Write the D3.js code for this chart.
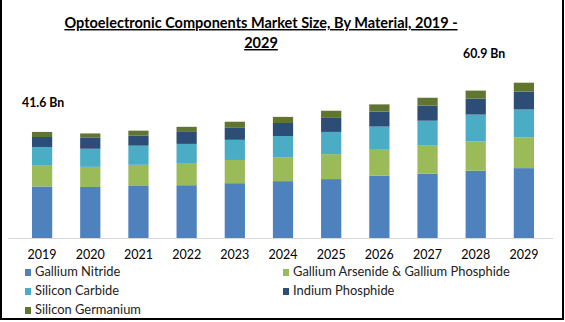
<!DOCTYPE html>
<html><head><meta charset="utf-8">
<script src="https://cdn.jsdelivr.net/npm/d3@7/dist/d3.min.js"></script>
<style>body{margin:0;background:#fff}svg{display:block}text{font-family:Lato,"Open Sans",sans-serif}</style>
</head><body><svg id="c" width="565" height="322"></svg>
<script>
const years = ["2019","2020","2021","2022","2023","2024","2025","2026","2027","2028","2029"];
const seriesNames = ["Gallium Nitride","Gallium Arsenide & Gallium Phosphide","Silicon Carbide","Indium Phosphide","Silicon Germanium"];
const galliumNitride   = [20.2,20.0,20.4,20.7,21.5,22.3,23.1,24.4,25.2,26.4,27.4];
const galliumArsenide  = [ 8.4, 7.9, 8.3, 8.7, 9.1, 9.4, 9.8,10.2,11.0,11.4,12.1];
const siliconCarbide   = [ 7.1, 7.1, 7.5, 7.5, 7.9, 8.3, 8.7, 9.1, 9.8,10.6,10.9];
const indiumPhosphide  = [ 3.9, 4.3, 3.9, 4.7, 4.7, 5.1, 5.5, 5.9, 5.9, 6.3, 7.0];
const siliconGermanium = [ 2.0, 1.7, 2.0, 2.0, 2.4, 2.4, 2.8, 2.8, 3.1, 3.1, 3.5];
const colors = ["#4F81BD","#9BBB59","#4BACC6","#2C4D75","#5F7530"];
const annotations = [{year:"2019",label:"41.6 Bn"},{year:"2029",label:"60.9 Bn"}];

const svg = d3.select("#c");
const seriesArr = [galliumNitride,galliumArsenide,siliconCarbide,indiumPhosphide,siliconGermanium];
const table = years.map((y,i)=>{const o={year:y};seriesNames.forEach((s,k)=>o[s]=seriesArr[k][i]);return o;});
const stack = d3.stack().keys(seriesNames)(table);

const x = d3.scaleBand().domain(years).range([18,548]).paddingInner(0.58).paddingOuter(0.29);
const y = d3.scaleLinear().domain([0,62]).range([238,238-62*2.55]);

// border
svg.append("rect").attr("x",1).attr("y",-2).attr("width",562).attr("height",321).attr("fill","none").attr("stroke","#000").attr("stroke-width",2);

// title
const title = svg.append("text").attr("text-anchor","middle").attr("font-weight","bold").attr("font-size",14.5).attr("fill","#000").style("text-decoration","underline");
title.append("tspan").attr("x",261).attr("y",28).text("Optoelectronic Components Market Size, By Material, 2019 -");
title.append("tspan").attr("x",261).attr("y",48).text("2029");

// bars
svg.append("g").selectAll("g").data(stack).join("g").attr("fill",(d,i)=>colors[i])
  .selectAll("rect").data(d=>d).join("rect")
  .attr("x",d=>x(d.data.year)).attr("width",x.bandwidth())
  .attr("y",d=>y(d[1])).attr("height",d=>y(d[0])-y(d[1]));

// axis
const ax = svg.append("g").attr("transform","translate(0,238)").call(d3.axisBottom(x).tickSize(0).tickPadding(12));
ax.select(".domain").attr("d","M8,0.5H553").attr("stroke","#d9d9d9");
ax.selectAll("text").attr("font-size",12.5).attr("fill","#000").style("font-family","Lato");

// annotations
svg.append("text").attr("x",22).attr("y",107).attr("font-weight","bold").attr("font-size",12.3).text(annotations[0].label);
svg.append("text").attr("x",463).attr("y",57.5).attr("font-weight","bold").attr("font-size",12.3).text(annotations[1].label);

// legend
const legPos = [[25,276],[283,276],[25,295],[283,295],[25,314]];
const lg = svg.append("g").selectAll("g").data(seriesNames).join("g").attr("transform",(d,i)=>`translate(${legPos[i][0]},${legPos[i][1]})`);
lg.append("rect").attr("x",0).attr("y",-7).attr("width",6).attr("height",7).attr("fill",(d,i)=>colors[i]);
lg.append("text").attr("x",10).attr("y",0).attr("font-size",12.9).attr("fill","#222").text(d=>d);
</script></body></html>
